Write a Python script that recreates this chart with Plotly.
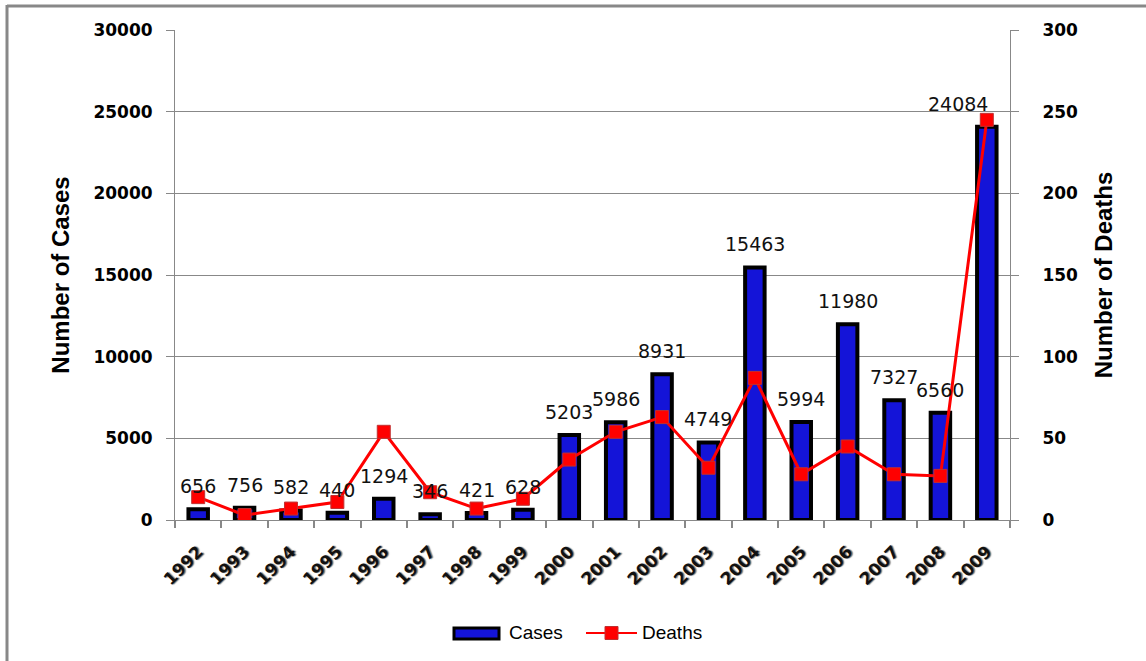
import plotly.graph_objects as go

years = ["1992","1993","1994","1995","1996","1997","1998","1999","2000",
         "2001","2002","2003","2004","2005","2006","2007","2008","2009"]
cases = [656, 756, 582, 440, 1294, 346, 421, 628, 5203, 5986, 8931, 4749,
         15463, 5994, 11980, 7327, 6560, 24084]
deaths = [14, 3, 7, 11, 54, 17, 7, 13, 37, 54, 63, 32, 87, 28, 45, 28, 27, 245]
case_ticks = [0, 5000, 10000, 15000, 20000, 25000, 30000]
death_ticks = [0, 50, 100, 150, 200, 250, 300]

BLUE = "#1414d8"
RED = "#ff0000"

fig = go.Figure()
fig.add_trace(go.Bar(
    x=years, y=cases, name="Cases", width=0.42,
    marker=dict(color=BLUE, line=dict(color="black", width=4)),
    yaxis="y", showlegend=False,
))
fig.add_trace(go.Scatter(
    x=years, y=deaths, name="Deaths", mode="lines+markers",
    line=dict(color=RED, width=3),
    marker=dict(symbol="square", size=13, color=RED,
                line=dict(color="#c03030", width=1)),
    yaxis="y2", showlegend=False,
))

for i, c in enumerate(cases):
    xs = -29 if i == len(cases) - 1 else 0
    fig.add_annotation(x=i, y=c, xref="x", yref="y", text=str(c),
                       showarrow=False, yanchor="bottom", yshift=10, xshift=xs,
                       font=dict(family="DejaVu Sans", size=19, color="#111"))

# plot area in pixels: x 175..1010, y 30..520
def px(x):
    return (x - 175) / 835

def py(y):
    return (520 - y) / 490

leg_font = dict(family="Liberation Sans", size=19, color="black")
fig.add_annotation(x=px(507), y=py(633), xref="paper", yref="paper", text="Cases",
                   showarrow=False, xanchor="left", yanchor="middle", font=leg_font)
fig.add_annotation(x=px(640), y=py(633), xref="paper", yref="paper", text="Deaths",
                   showarrow=False, xanchor="left", yanchor="middle", font=leg_font)

axis_font = dict(family="DejaVu Sans", size=17, color="black", weight="bold")
x_font = dict(family="DejaVu Sans", size=17, color="#111", weight="bold",
              shadow="1px 1px 1px #777")
fig.update_layout(
    width=1146, height=661,
    margin=dict(l=175, r=136, t=30, b=141),
    paper_bgcolor="white", plot_bgcolor="white",
    showlegend=False,
    xaxis=dict(type="category", range=[-0.5, 17.5], tickangle=-45, tickfont=x_font,
               showline=True, linecolor="#888", linewidth=1,
               ticks="outside", tickson="boundaries", tickcolor="#888",
               ticklen=7, tickwidth=2, ticklabelstandoff=14,
               showgrid=False, automargin=False),
    yaxis=dict(range=[0, 30000], tickvals=case_ticks, tickformat="d",
               tickfont=axis_font, automargin=False, ticklabelstandoff=10,
               showline=True, linecolor="#888", ticks="outside", tickcolor="#888",
               ticklen=8, showgrid=True, gridcolor="#888", gridwidth=1,
               zeroline=False,
               title=dict(text="Number of Cases", standoff=17,
                          font=dict(family="Liberation Sans", size=24,
                                    color="black", weight="bold"))),
    yaxis2=dict(range=[0, 300], tickvals=death_ticks, tickformat="d",
                tickfont=axis_font, automargin=False, ticklabelstandoff=20,
                overlaying="y", side="right",
                showline=True, linecolor="#888", ticks="outside", tickcolor="#888",
                ticklen=8, showgrid=False, zeroline=False,
                title=dict(text="Number of Deaths", standoff=18,
                           font=dict(family="Liberation Sans", size=24,
                                     color="black", weight="bold"))),
    shapes=[
        # image frame (top and left edges)
        dict(type="line", xref="paper", yref="paper", x0=px(7), x1=px(1146),
             y0=py(6), y1=py(6), line=dict(color="#888", width=3)),
        dict(type="line", xref="paper", yref="paper", x0=px(7), x1=px(7),
             y0=py(661), y1=py(5), line=dict(color="#888", width=3)),
        # legend: Cases swatch
        dict(type="rect", xref="paper", yref="paper", x0=px(454), x1=px(499),
             y0=py(639), y1=py(628), fillcolor=BLUE,
             line=dict(color="black", width=3)),
        # legend: Deaths line + marker
        dict(type="line", xref="paper", yref="paper", x0=px(586), x1=px(637),
             y0=py(633), y1=py(633), line=dict(color=RED, width=2)),
        dict(type="rect", xref="paper", yref="paper", x0=px(605), x1=px(618),
             y0=py(639.5), y1=py(626.5), fillcolor=RED,
             line=dict(color="#c03030", width=1)),
    ],
)
fig.write_html("out.html", config={"displayModeBar": False},
               post_script="document.body.style.margin='0';")
